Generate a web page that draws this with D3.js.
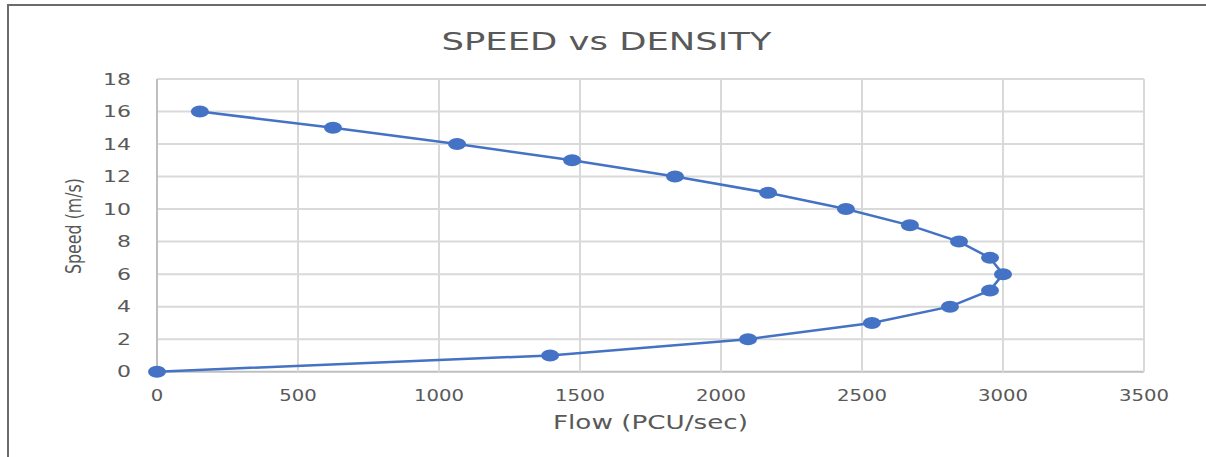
<!DOCTYPE html>
<html><head><meta charset="utf-8">
<script src="https://cdn.jsdelivr.net/npm/d3@7"></script>
<style>body{margin:0;background:#fff}svg{display:block}</style>
</head><body>
<svg id="c" width="1206" height="457"></svg>
<script>
const flow  = [0, 1394, 2096, 2535, 2812, 2954, 3000, 2954, 2844, 2670, 2443, 2167, 1837, 1472, 1064, 624, 152];
const speed = [0, 1, 2, 3, 4, 5, 6, 7, 8, 9, 10, 11, 12, 13, 14, 15, 16];
const xTicks = [0, 500, 1000, 1500, 2000, 2500, 3000, 3500];
const yTicks = [0, 2, 4, 6, 8, 10, 12, 14, 16, 18];
const title = "SPEED vs DENSITY";
const xTitle = "Flow (PCU/sec)";
const yTitle = "Speed (m/s)";

const svg = d3.select("#c");
const font = "'DejaVu Sans', sans-serif";
const tc = "#595959";

// outer border
svg.append("path").attr("d","M8,457 V5 H1206").attr("fill","none").attr("stroke","#6b6b6b").attr("stroke-width",2);

const x = d3.scaleLinear().domain([0,3500]).range([157,1144]);
const y = d3.scaleLinear().domain([0,18]).range([371.7,79]);

// grid
svg.append("g").selectAll("line").data(yTicks).join("line")
  .attr("x1",x(0)).attr("x2",x(3500)).attr("y1",d=>y(d)).attr("y2",d=>y(d))
  .attr("stroke",d=>d===0?"#bfbfbf":"#d9d9d9").attr("stroke-width",2);
svg.append("g").selectAll("line").data(xTicks).join("line")
  .attr("y1",y(0)).attr("y2",y(18)).attr("x1",d=>x(d)).attr("x2",d=>x(d))
  .attr("stroke",d=>d===0?"#bfbfbf":"#d9d9d9").attr("stroke-width",2);

// tick labels
svg.append("g").selectAll("text").data(yTicks).join("text")
  .attr("x",131).attr("y",d=>y(d)).attr("dy","0.36em").attr("text-anchor","end")
  .attr("font-family",font).attr("font-size",15.5).attr("fill",tc)
  .attr("textLength",d=>String(d).length*14).attr("lengthAdjust","spacingAndGlyphs")
  .text(d=>d);
svg.append("g").selectAll("text").data(xTicks).join("text")
  .attr("x",d=>x(d)).attr("y",400.5).attr("text-anchor","middle")
  .attr("font-family",font).attr("font-size",15.5).attr("fill",tc)
  .attr("textLength",d=>String(d).length*12.5).attr("lengthAdjust","spacingAndGlyphs")
  .text(d=>d);

// titles
svg.append("text").attr("x",606.5).attr("y",50).attr("text-anchor","middle")
  .attr("font-family",font).attr("font-size",25).attr("fill",tc)
  .attr("textLength",330).attr("lengthAdjust","spacingAndGlyphs").text(title);
svg.append("text").attr("x",650.5).attr("y",429).attr("text-anchor","middle")
  .attr("font-family",font).attr("font-size",19).attr("fill",tc)
  .attr("textLength",195).attr("lengthAdjust","spacingAndGlyphs").text(xTitle);
svg.append("text").attr("transform","translate(81,226) rotate(-90)").attr("text-anchor","middle")
  .attr("font-family",font).attr("font-size",22).attr("fill",tc)
  .attr("textLength",96).attr("lengthAdjust","spacingAndGlyphs").text(yTitle);

// series
const pts = flow.map((f,i)=>[f,speed[i]]);
svg.append("path").datum(pts)
  .attr("d",d3.line().x(d=>x(d[0])).y(d=>y(d[1])))
  .attr("fill","none").attr("stroke","#4472C4").attr("stroke-width",2.5);
svg.append("g").selectAll("ellipse").data(pts).join("ellipse")
  .attr("cx",d=>x(d[0])).attr("cy",d=>y(d[1])).attr("rx",9).attr("ry",6)
  .attr("fill","#4472C4");
</script>
</body></html>
